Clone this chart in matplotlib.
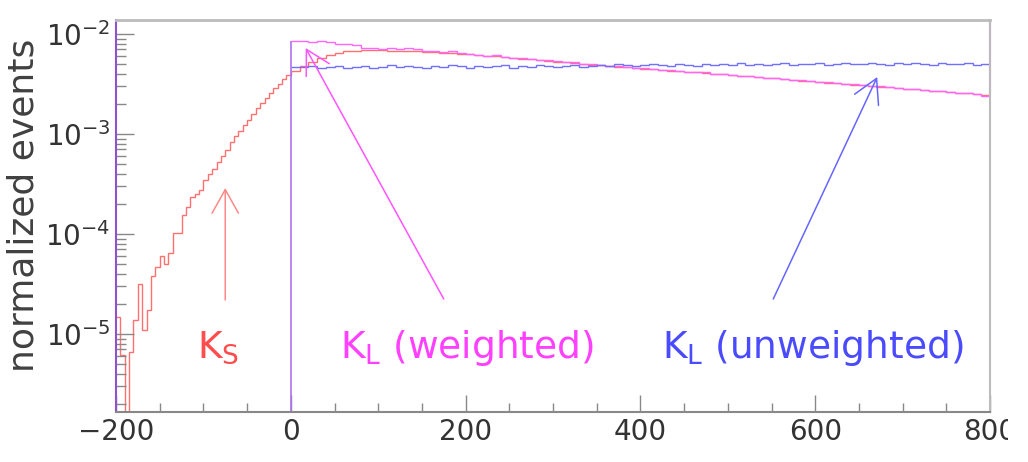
import numpy as np
import matplotlib
matplotlib.use("Agg")
import matplotlib.pyplot as plt
from matplotlib.ticker import FixedLocator, MultipleLocator, LogLocator, NullFormatter
from matplotlib.transforms import Bbox, TransformedBbox

# K_S histogram (log10 of normalized events), 5 wide bins below 0, 10 wide above
ks_edges = np.concatenate([np.arange(-200, 0, 5), np.arange(0, 801, 10)])
ks_log10 = [
    -4.83, -5.21, -7.00, -5.18, -4.86, -4.50, -4.96, -4.76, -4.42, -4.33,
    -4.22, -4.30, -4.19, -3.99, -3.99, -3.81, -3.73, -3.63, -3.60, -3.56,
    -3.46, -3.40, -3.35, -3.28, -3.22, -3.16, -3.08, -3.02, -2.97, -2.91,
    -2.86, -2.80, -2.74, -2.69, -2.64, -2.59, -2.54, -2.50, -2.45, -2.41,
    # 0 .. 800
    -2.37, -2.32, -2.28, -2.24, -2.21, -2.19, -2.175, -2.165, -2.16, -2.16,
    -2.16, -2.165, -2.165, -2.17, -2.17, -2.18, -2.18, -2.19, -2.19, -2.20,
    -2.20, -2.21, -2.215, -2.22, -2.23, -2.235, -2.245, -2.25, -2.26, -2.265,
    -2.275, -2.28, -2.29, -2.295, -2.305, -2.31, -2.32, -2.325, -2.33, -2.34,
    -2.345, -2.35, -2.36, -2.365, -2.37, -2.38, -2.385, -2.39, -2.40, -2.405,
    -2.41, -2.42, -2.425, -2.43, -2.44, -2.445, -2.45, -2.46, -2.465, -2.47,
    -2.48, -2.485, -2.49, -2.50, -2.505, -2.51, -2.52, -2.525, -2.53, -2.54,
    -2.545, -2.55, -2.56, -2.565, -2.57, -2.58, -2.585, -2.59, -2.60, -2.61,
]

# K_L histograms, 0 .. 800 in bins of 10
kl_edges = np.arange(0, 801, 10)
kl_weighted_log10 = [
    -2.07, -2.07, -2.075, -2.07, -2.08, -2.10, -2.10, -2.11, -2.14, -2.14,
    -2.145, -2.14, -2.145, -2.14, -2.15, -2.175, -2.17, -2.18, -2.175, -2.19,
    -2.20, -2.205, -2.215, -2.21, -2.23, -2.235, -2.24, -2.245, -2.26, -2.26,
    -2.27, -2.28, -2.28, -2.295, -2.30, -2.305, -2.315, -2.32, -2.33, -2.335,
    -2.34, -2.345, -2.355, -2.36, -2.365, -2.375, -2.38, -2.385, -2.395, -2.40,
    -2.41, -2.415, -2.42, -2.43, -2.435, -2.445, -2.45, -2.455, -2.46, -2.47,
    -2.475, -2.48, -2.49, -2.495, -2.50, -2.51, -2.515, -2.52, -2.53, -2.535,
    -2.545, -2.55, -2.555, -2.565, -2.57, -2.58, -2.585, -2.59, -2.60, -2.615,
]
kl_unweighted_log10 = [
    -2.33, -2.33, -2.32, -2.34, -2.33, -2.32, -2.34, -2.33, -2.32, -2.34,
    -2.33, -2.31, -2.33, -2.32, -2.33, -2.34, -2.32, -2.33, -2.31, -2.32,
    -2.34, -2.32, -2.33, -2.32, -2.31, -2.34, -2.32, -2.33, -2.31, -2.32,
    -2.33, -2.32, -2.31, -2.33, -2.32, -2.31, -2.32, -2.30, -2.31, -2.32,
    -2.31, -2.30, -2.31, -2.32, -2.30, -2.31, -2.32, -2.30, -2.31, -2.30,
    -2.31, -2.29, -2.31, -2.30, -2.31, -2.30, -2.29, -2.31, -2.30, -2.30,
    -2.29, -2.31, -2.30, -2.29, -2.30, -2.30, -2.29, -2.30, -2.31, -2.29,
    -2.30, -2.29, -2.30, -2.31, -2.29, -2.30, -2.30, -2.29, -2.31, -2.30,
]

x_ticks = [-200, 0, 200, 400, 600, 800]

# annotation arrows: (x, log10 y) of tail and tip
ks_arrow = [(-75, -4.66), (-75, -3.54)]
klw_arrow = [(175, -4.65), (17, -2.14)]
klu_arrow = [(552, -4.65), (671, -2.43)]

RED, MAGENTA, BLUE, PURPLE = "#ff7070", "#ff66ff", "#7070ff", "#b070f0"

plt.rcParams["font.family"] = "DejaVu Sans"
plt.rcParams["mathtext.fontset"] = "dejavusans"

fig = plt.figure(figsize=(10.28, 4.62), dpi=100)
ax = fig.add_axes([116 / 1028, 1 - 412 / 462, 874 / 1028, 392 / 462])

ks = 10 ** np.array(ks_log10)
klw = 10 ** np.array(kl_weighted_log10)
klu = 10 ** np.array(kl_unweighted_log10)

ax.set_yscale("log")
ax.set_xlim(-200, 800)
ymin, ymax = 10 ** -5.78, 10 ** -1.86
ax.set_ylim(ymin, ymax)

ax.stairs(ks, ks_edges, baseline=None, color=RED, lw=1)
ax.stairs(klw, kl_edges, baseline=None, color=MAGENTA, lw=1)
ax.stairs(klu, kl_edges, baseline=None, color=BLUE, lw=1)
ax.vlines(kl_edges[0], ymin, klw[0], color=PURPLE, lw=1.2)
ax.vlines(kl_edges[-1], ks[-1], ymax, color="#d060e8", lw=1.5, clip_on=False)

# arrows
for (tail, tip), col in [(ks_arrow, "#ff8888"), (klw_arrow, "#ff55ff"), (klu_arrow, "#6666ff")]:
    ax.annotate("", xy=(tip[0], 10 ** tip[1]), xytext=(tail[0], 10 ** tail[1]),
                arrowprops=dict(arrowstyle="->,head_length=1.7,head_width=0.95",
                                color=col, lw=1.1, mutation_scale=10,
                                shrinkA=0, shrinkB=0))

# labels
ax.text(-83, 10 ** -5.24, r"$\mathregular{K_S}$", color="#ff4c4c", fontsize=27,
        ha="center", va="baseline")
ax.text(201, 10 ** -5.24, r"$\mathregular{K_L}$ (weighted)", color="#ff40ff",
        fontsize=27, ha="center", va="baseline")
ax.text(597, 10 ** -5.24, r"$\mathregular{K_L}$ (unweighted)", color="#4a4aff",
        fontsize=27, ha="center", va="baseline")

fig.text(24 / 1028, 1 - 205 / 462, "normalized events", rotation=90, fontsize=26,
         color="#404040", ha="center", va="center")

# axes styling
ax.xaxis.set_major_locator(FixedLocator(x_ticks))
ax.xaxis.set_minor_locator(MultipleLocator(50))
ax.yaxis.set_major_locator(LogLocator(base=10, numticks=10))
ax.yaxis.set_minor_locator(LogLocator(base=10, subs=np.arange(2, 10), numticks=20))
ax.yaxis.set_minor_formatter(NullFormatter())

ax.tick_params(which="both", direction="in", top=False, right=False,
               color="#888888", width=1, labelcolor="#333333", labelsize=20)
ax.tick_params(axis="x", which="major", length=12, pad=4)
ax.tick_params(axis="x", which="minor", length=6.5)
ax.tick_params(axis="y", which="major", length=13, pad=4)
ax.tick_params(axis="y", which="minor", length=7)

ax.spines["left"].set_color("#9050d0")
ax.spines["left"].set_linewidth(1.5)
ax.spines["bottom"].set_color("#888888")
ax.spines["bottom"].set_linewidth(1.5)
ax.spines["top"].set_color("#bbbbbb")
ax.spines["top"].set_linewidth(2)
ax.spines["right"].set_color("#bbbbbb")
ax.spines["right"].set_linewidth(1.5)

# the reference cuts the last tick label at the right
clip = TransformedBbox(Bbox([[0, 0], [1008 / 1028, 1]]), fig.transFigure)
for lbl in ax.get_xticklabels():
    lbl.set_clip_on(True)
    lbl.set_clip_box(clip)

fig.savefig("out.png", dpi=100)
